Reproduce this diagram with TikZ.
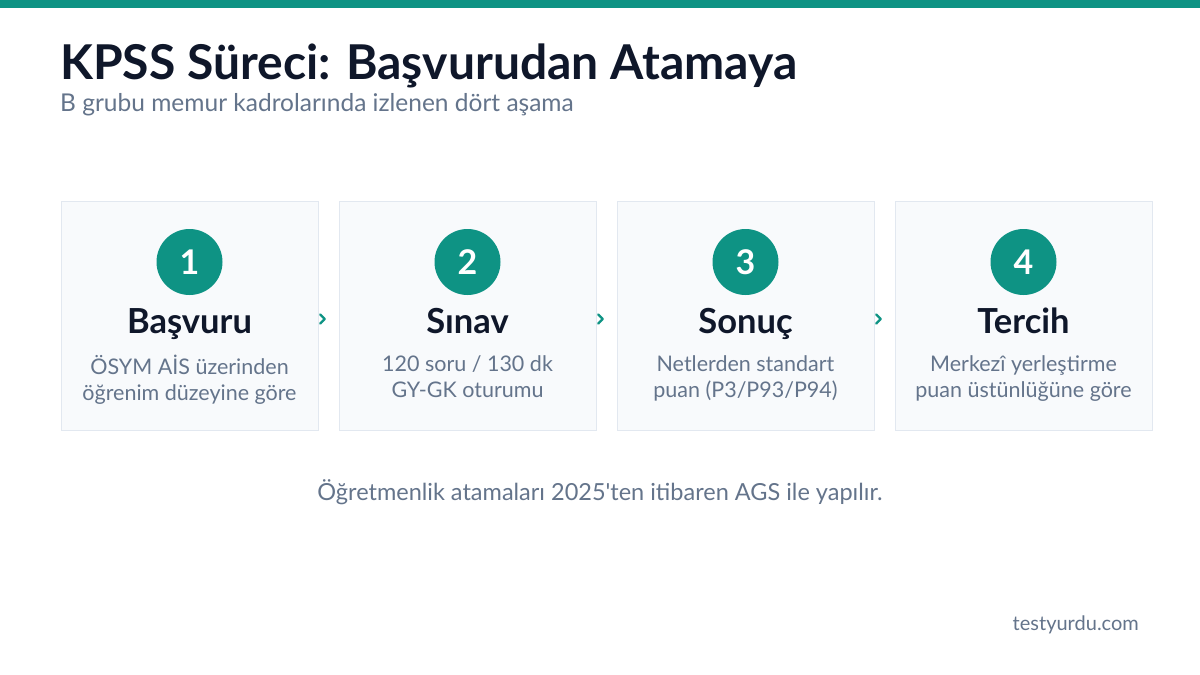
\documentclass[tikz,border=0pt]{standalone}
\usepackage{fontspec}
\setmainfont{Lato}[Ligatures=TeXOff]
\usetikzlibrary{calc}
\definecolor{teal}{HTML}{0E9384}
\definecolor{ink}{HTML}{0F172A}
\definecolor{muted}{HTML}{64748B}
\definecolor{cardfill}{HTML}{F8FAFC}
\definecolor{cardline}{HTML}{E2E8F0}
\tikzset{
  card/.style={draw=cardline, fill=cardfill, line width=0.8pt, minimum width=257pt, minimum height=229pt, inner sep=0pt},
  badge/.style={circle, fill=teal, minimum size=66pt, inner sep=0pt, text=white, font=\fontsize{34}{34}\selectfont\bfseries},
  heading/.style={text=ink, font=\fontsize{34.5}{34.5}\selectfont\bfseries, anchor=base},
  desc/.style={text=muted, font=\fontsize{21.5}{26}\selectfont, align=center, anchor=north},
  chev/.style={teal, line width=2.4pt, line cap=round, line join=round}
}
\begin{document}
\begin{tikzpicture}[x=1pt,y=-1pt]
\useasboundingbox (0,0) rectangle (1200,675);
\fill[white] (0,0) rectangle (1200,675);
\fill[teal] (0,0) rectangle (1200,8);
\node[anchor=base west, inner sep=0pt, text=ink, font=\fontsize{48}{48}\selectfont\bfseries] (title) at (60,79) {KPSS Süreci: Başvurudan Atamaya};
\node[anchor=base west, inner sep=0pt, text=muted, font=\fontsize{24.5}{24.5}\selectfont] (sub) at (60,111) {B grubu memur kadrolarında izlenen dört aşama};
\foreach \i/\x/\num/\head/\la/\lb in {
  1/189.5/1/Başvuru/{ÖSYM AİS üzerinden}/{öğrenim düzeyine göre},
  2/467.5/2/Sınav/{120 soru / 130 dk}/{GY-GK oturumu},
  3/745.5/3/Sonuç/{Netlerden standart}/{puan (P3/P93/P94)},
  4/1023.5/4/Tercih/{Merkezî yerleştirme}/{puan üstünlüğüne göre}}{
  \node[card] (c\i) at (\x,315.5) {};
  \node[badge] (b\i) at (\x,262) {\num};
  \node[heading] (h\i) at (\x,333) {\head};
  \node[desc] (d\i) at (\x,352) {\la\\\lb};
}
\foreach \a/\b in {1/2,2/3,3/4}{
  \coordinate (k\a) at ($(c\a.east)!0.5!(c\b.west)+(-6,3.5)$);
  \draw[chev] ($(k\a)+(-2.2,-4.5)$) -- ($(k\a)+(2.2,0)$) -- ($(k\a)+(-2.2,4.5)$);
}
\node[anchor=base, inner sep=0pt, text=muted, font=\fontsize{23.5}{23.5}\selectfont] (note) at (600,500) {Öğretmenlik atamaları 2025'ten itibaren AGS ile yapılır.};
\node[anchor=base east, inner sep=0pt, text=muted, font=\fontsize{20}{20}\selectfont] (brand) at (1139,630) {testyurdu.com};
\end{tikzpicture}
\end{document}
